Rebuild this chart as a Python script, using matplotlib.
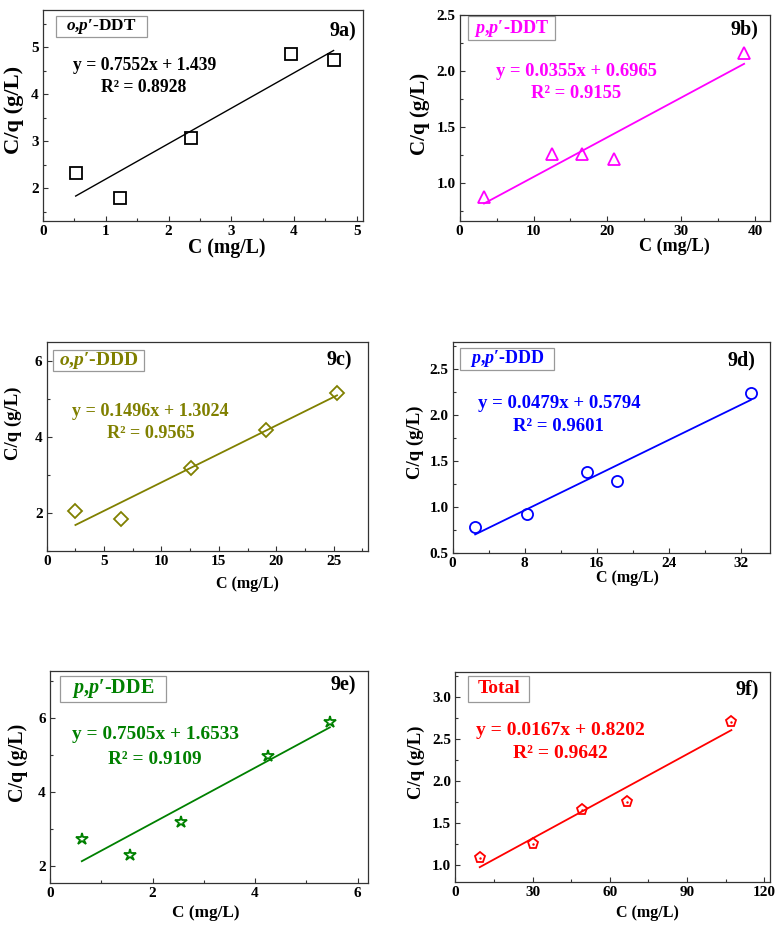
import numpy as np
import matplotlib.pyplot as plt
from matplotlib.patches import Rectangle
from matplotlib.ticker import MultipleLocator

plt.rcParams['font.family'] = ['Liberation Serif', 'DejaVu Serif']
plt.rcParams['font.weight'] = 'bold'
plt.rcParams['mathtext.fontset'] = 'custom'
plt.rcParams['mathtext.it'] = 'Liberation Serif:italic:bold'
plt.rcParams['mathtext.rm'] = 'Liberation Serif:bold'
plt.rcParams['mathtext.bf'] = 'Liberation Serif:bold'

# data (C in mg/L, C/q in g/L)
x_a = [0.52, 1.22, 2.36, 3.95, 4.63]
y_a = [2.32, 1.79, 3.08, 4.87, 4.73]
x_b = [3.3, 12.5, 16.6, 20.9, 38.5]
y_b = [0.87, 1.26, 1.26, 1.21, 2.16]
x_c = [2.5, 6.5, 12.6, 19.1, 25.3]
y_c = [2.05, 1.83, 3.17, 4.18, 5.16]
x_d = [2.5, 8.2, 14.9, 18.2, 33.1]
y_d = [0.78, 0.92, 1.38, 1.28, 2.24]
x_e = [0.62, 1.56, 2.55, 4.25, 5.46]
y_e = [2.73, 2.30, 3.18, 4.98, 5.90]
x_f = [9.5, 30.0, 49.3, 66.6, 107.2]
y_f = [1.09, 1.26, 1.66, 1.76, 2.71]

# linear fits as printed on the panels
slopes = [0.7552, 0.0355, 0.1496, 0.0479, 0.7505, 0.0167]
intercepts = [1.439, 0.6965, 1.3024, 0.5794, 1.6533, 0.8202]
r2 = ["0.8928", "0.9155", "0.9565", "0.9601", "0.9109", "0.9642"]
eqs = ["y = 0.7552x + 1.439", "y = 0.0355x + 0.6965", "y = 0.1496x + 1.3024",
       "y = 0.0479x + 0.5794", "y = 0.7505x + 1.6533", "y = 0.0167x + 0.8202"]

names = ["$\\mathit{o{,}p}$\u2032-DDT", "$\\mathit{p{,}p}$\u2032-DDT", "$\\mathit{o{,}p}$\u2032-DDD",
         "$\\mathit{p{,}p}$\u2032-DDD", "$\\mathit{p{,}p}$\u2032-DDE", "Total"]
tags = ["9a)", "9b)", "9c)", "9d)", "9e)", "9f)"]

xs = [x_a, x_b, x_c, x_d, x_e, x_f]
ys = [y_a, y_b, y_c, y_d, y_e, y_f]

colors = ["black", "#FF00FF", "#808000", "#0000FF", "#008000", "#FF0000"]
markers = ["s", "^", "D", "o", "*", "p"]
msizes = [8, 8, 7, 8, 9, 8]

# layout
positions = [
    [0.0549, 0.7629, 0.4082, 0.2264],
    [0.5863, 0.7632, 0.3958, 0.2207],
    [0.0596, 0.4091, 0.4098, 0.2243],
    [0.5774, 0.4070, 0.4044, 0.2264],
    [0.0638, 0.0523, 0.4060, 0.2281],
    [0.5807, 0.0540, 0.4018, 0.2253],
]
xlims = [(0, 5.1), (0, 42), (0, 28), (0, 35.2), (0, 6.21), (0, 122.3)]
ylims = [(1.3, 5.8), (0.66, 2.5), (1.0, 6.5), (0.5, 2.8), (1.52, 7.29), (0.806, 3.306)]
xmaj = [1, 10, 5, 8, 2, 30]
ymaj = [1, 0.5, 2, 0.5, 2, 0.5]
# label boxes (x0, y0, x1, y1 in axes fraction)
boxes = [
    (0.041, 0.871, 0.324, 0.972),
    (0.027, 0.878, 0.306, 0.995),
    (0.021, 0.860, 0.303, 0.960),
    (0.024, 0.866, 0.321, 0.972),
    (0.031, 0.854, 0.364, 0.975),
    (0.040, 0.857, 0.235, 0.980),
]
name_size = [12.4, 13.1, 14, 13, 14.5, 14]
tag_pos = [(0.978, 0.899), (0.964, 0.931), (0.951, 0.909),
           (0.955, 0.909), (0.961, 0.929), (0.963, 0.916)]
eq_pos = [(0.316, 0.737, 0.634), (0.375, 0.724, 0.619), (0.323, 0.668, 0.562),
          (0.335, 0.708, 0.600), (0.330, 0.698, 0.580), (0.333, 0.722, 0.611)]
eq_size = [12.7, 13.4, 13.1, 13.5, 13.9, 14.0]
xlab_size = [14.2, 13.1, 11.5, 11.5, 12.4, 11.5]
xlab_pos = [(0.575, -0.128), (0.692, -0.126), (0.626, -0.159),
            (0.550, -0.120), (0.490, -0.140), (0.609, -0.149)]
ylab_pos = [(-0.090, 0.526), (-0.128, 0.521), (-0.104, 0.611),
            (-0.118, 0.522), (-0.102, 0.566), (-0.125, 0.571)]

fig = plt.figure(figsize=(7.84, 9.32), dpi=100)

for i in range(6):
    ax = fig.add_axes(positions[i])
    c = colors[i]
    x = np.array(xs[i])
    y = np.array(ys[i])

    xfit = np.array([x.min(), x.max()])
    ax.plot(xfit, slopes[i] * xfit + intercepts[i], color=c, lw=1.0 if i == 0 else 1.3)
    ax.plot(x, y, ls='', marker=markers[i], ms=msizes[i], mfc='none',
            mec=c, mew=1.3)
    if markers[i] == 'p':
        ax.plot(x, y, ls='', marker='.', ms=1.5, color=c)

    ax.set_xlim(*xlims[i])
    ax.set_ylim(*ylims[i])
    ax.xaxis.set_major_locator(MultipleLocator(xmaj[i]))
    ax.xaxis.set_minor_locator(MultipleLocator(xmaj[i] / 2))
    ax.yaxis.set_major_locator(MultipleLocator(ymaj[i]))
    ax.yaxis.set_minor_locator(MultipleLocator(ymaj[i] / 2))
    ax.tick_params(which='both', direction='in', color='#333333', width=0.8)
    ax.tick_params(which='major', length=3.5, labelsize=11, pad=3)
    ax.tick_params(which='minor', length=2.5)
    for lab in ax.get_xticklabels() + ax.get_yticklabels():
        lab.set_fontweight('bold')
    for s in ax.spines.values():
        s.set_color('#333333')
        s.set_linewidth(0.9)

    ax.set_xlabel("C (mg/L)", fontsize=xlab_size[i], fontweight='bold', va='center')
    ax.xaxis.set_label_coords(*xlab_pos[i])
    ax.set_ylabel("C/q (g/L)", fontsize=xlab_size[i] + 2, fontweight='bold', va='center')
    ax.yaxis.set_label_coords(*ylab_pos[i])

    bx0, by0, bx1, by1 = boxes[i]
    ax.add_patch(Rectangle((bx0, by0), bx1 - bx0, by1 - by0, transform=ax.transAxes,
                           fill=False, ec='#999999', lw=0.9))
    ax.text((bx0 + bx1) / 2, (by0 + by1) / 2, names[i], transform=ax.transAxes,
            ha='center', va='center', color=c, fontsize=name_size[i], fontweight='bold')
    ax.text(tag_pos[i][0], tag_pos[i][1], tags[i], transform=ax.transAxes,
            ha='right', va='center', color='black', fontsize=14.5, fontweight='bold')
    ex, ey1, ey2 = eq_pos[i]
    ax.text(ex, ey1, eqs[i], transform=ax.transAxes, ha='center', va='center',
            color=c, fontsize=eq_size[i], fontweight='bold')
    ax.text(ex, ey2, "R\u00b2 = " + r2[i], transform=ax.transAxes, ha='center',
            va='center', color=c, fontsize=eq_size[i], fontweight='bold')

fig.savefig("out.png", dpi=100)
